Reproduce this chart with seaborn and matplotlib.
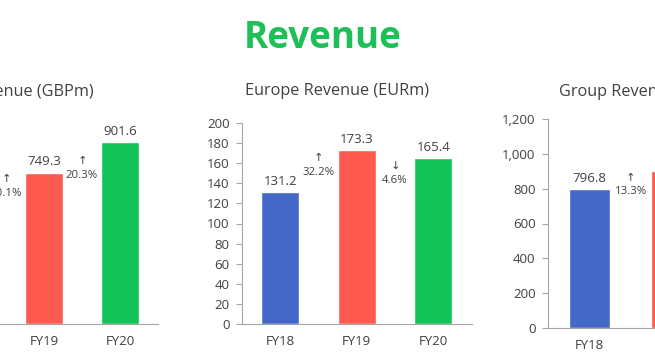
import matplotlib
matplotlib.use("Agg")
import matplotlib.pyplot as plt
import seaborn as sns

# ----------------------------
# Data
# ----------------------------
years = ["FY18", "FY19", "FY20"]

uk_revenue = [680.6, 749.3, 901.6]
uk_growth = [10.1, 20.3]
uk_growth_y = [679, 768]

europe_revenue = [131.2, 173.3, 165.4]
europe_growth = [32.2, -4.6]
europe_growth_y = [158, 150]

group_revenue = [796.8, 902.8, 1047.4]
group_growth = [13.3, 16.0]
group_growth_y = [821, 960]

bar_colors = ["#4468C8", "#FF5A4F", "#12C357"]
title_green = "#1DBF56"
text_grey = "#404040"
axis_grey = "#A6A6A6"

sns.set_theme(style="white")
plt.rcParams["font.family"] = ["Open Sans", "DejaVu Sans"]

W, H = 655, 364
fig = plt.figure(figsize=(W / 100, H / 100), dpi=100)


def px_axes(x0, x1, ytop, ybot):
    return fig.add_axes([x0 / W, 1 - ybot / H, (x1 - x0) / W, (ybot - ytop) / H])


def draw_panel(ax, values, growth, growth_y, ymax, step, fmt):
    sns.barplot(x=years, y=values, hue=years, palette=bar_colors, width=0.5,
                saturation=1, legend=False, ax=ax)
    ax.set_xlim(-0.5, 2.5)
    ax.set_ylim(0, ymax)
    ax.set_yticks(range(0, ymax + 1, step))
    ax.set_yticklabels([fmt.format(t) for t in range(0, ymax + 1, step)])
    ax.set_xlabel("")
    ax.set_ylabel("")
    for s in ["top", "right"]:
        ax.spines[s].set_visible(False)
    for s in ["left", "bottom"]:
        ax.spines[s].set_color(axis_grey)
        ax.spines[s].set_linewidth(0.8)
    ax.set_xticks([-0.5, 0.5, 1.5, 2.5], minor=True)
    ax.tick_params(axis="x", which="major", length=0, pad=8, labelsize=9.5, labelcolor=text_grey)
    ax.tick_params(axis="x", which="minor", length=4, width=0.8, color=axis_grey, direction="out")
    ax.tick_params(axis="y", length=4, width=0.8, color=axis_grey, direction="out", left=True,
                   labelsize=9.5, labelcolor=text_grey, pad=5)
    for i, v in enumerate(values):
        ax.annotate(f"{v:,.1f}", (i, v), xytext=(0, 3), textcoords="offset points",
                    ha="center", va="bottom", fontsize=9.5, color=text_grey)
    # growth arrows between bars
    for i, (g, gy) in enumerate(zip(growth, growth_y)):
        arrow = "↑" if g >= 0 else "↓"
        ax.text(i + 0.5, gy, f"{arrow}\n{abs(g):.1f}%", ha="center", va="center",
                fontsize=8.2, color=text_grey, linespacing=1.35)


ax_uk = px_axes(-70, 158, 122, 324)
draw_panel(ax_uk, uk_revenue, uk_growth, uk_growth_y, 1000, 200, "{:,}")

ax_eu = px_axes(242, 471.5, 123, 324)
draw_panel(ax_eu, europe_revenue, europe_growth, europe_growth_y, 200, 20, "{}")

ax_grp = px_axes(548, 796, 119, 328)
draw_panel(ax_grp, group_revenue, group_growth, group_growth_y, 1200, 200, "{:,}")

# titles
fig.text(322.5 / W, 1 - 48 / H, "Revenue", ha="center", va="baseline",
         fontsize=26.5, fontweight="bold", color=title_green)
fig.text(94 / W, 1 - 95 / H, "UK Revenue (GBPm)", ha="right", va="baseline",
         fontsize=11.7, color=text_grey)
fig.text(337 / W, 1 - 95 / H, "Europe Revenue (EURm)", ha="center", va="baseline",
         fontsize=11.7, color=text_grey)
fig.text(559 / W, 1 - 96 / H, "Group Revenue (GBPm)", ha="left", va="baseline",
         fontsize=11.7, color=text_grey)

fig.savefig("out.png", dpi=100)
